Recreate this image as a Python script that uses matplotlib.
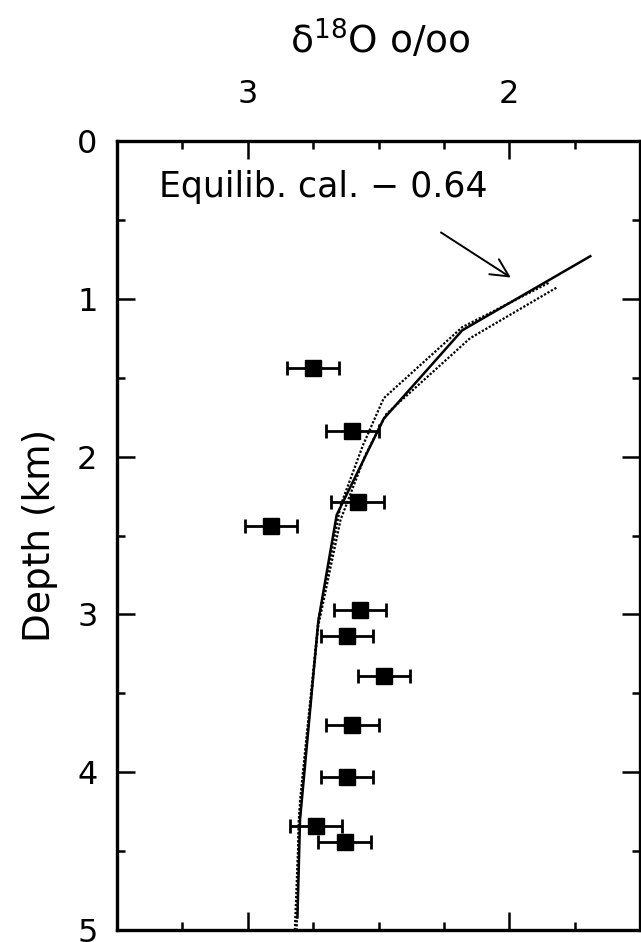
import numpy as np
import matplotlib
matplotlib.use("Agg")
import matplotlib.pyplot as plt
from matplotlib.ticker import MultipleLocator

# measured d18O (permil) vs depth (km), +/- 0.1 error
obs_d18o = [2.75, 2.60, 2.58, 2.91, 2.57, 2.62, 2.48, 2.60, 2.62, 2.74, 2.63]
obs_depth = [1.44, 1.84, 2.29, 2.44, 2.97, 3.14, 3.39, 3.70, 4.03, 4.34, 4.44]
obs_err = [0.1] * len(obs_d18o)

# equilibrium calculation - 0.64 (solid)
cal_d18o = [1.69, 2.18, 2.48, 2.66, 2.73, 2.80, 2.81]
cal_depth = [0.73, 1.20, 1.76, 2.37, 3.04, 4.30, 4.92]

# alternative calculations (dotted)
alt1_d18o = [1.85, 2.18, 2.48, 2.56, 2.645, 2.73, 2.80, 2.82]
alt1_depth = [0.90, 1.18, 1.63, 1.93, 2.31, 3.04, 4.18, 5.0]
alt2_d18o = [1.82, 2.15, 2.47, 2.55, 2.645, 2.73, 2.805, 2.813]
alt2_depth = [0.93, 1.25, 1.73, 1.99, 2.40, 3.07, 4.30, 5.0]

W, H = 641, 942
fig = plt.figure(figsize=(W / 100, H / 100), dpi=100)
ax = fig.add_axes([117 / W, 1 - 930 / H, (640 - 117) / W, (930 - 141) / H])

ax.plot(cal_d18o, cal_depth, color="black", lw=1.8)
ax.plot(alt1_d18o, alt1_depth, color="black", lw=1.6, ls=(0, (1, 0.8)))
ax.plot(alt2_d18o, alt2_depth, color="black", lw=1.6, ls=(0, (1, 0.8)))
ax.errorbar(obs_d18o, obs_depth, xerr=obs_err, fmt="s", color="black",
            ms=11.5, elinewidth=2, capsize=5, capthick=2)

ax.annotate("", xy=(1.985, 0.875), xytext=(2.27, 0.57),
            arrowprops=dict(arrowstyle="->", lw=1.4, color="black",
                            mutation_scale=32))
ax.text(3.34, 0.29, "Equilib. cal. \u2212 0.64", fontsize=25, va="center", ha="left")

ax.set_xlim(3.5, 1.5)
ax.set_ylim(5, 0)
ax.xaxis.set_major_locator(MultipleLocator(1))
ax.xaxis.set_minor_locator(MultipleLocator(0.25))
ax.yaxis.set_major_locator(MultipleLocator(1))
ax.yaxis.set_minor_locator(MultipleLocator(0.5))
ax.tick_params(which="both", direction="in", top=True, bottom=True,
               left=True, right=True, labeltop=True, labelbottom=False,
               width=1.8, labelsize=23)
ax.tick_params(axis="x", which="major", length=13, pad=22)
ax.tick_params(axis="x", which="minor", length=6)
ax.tick_params(axis="y", which="major", length=13, pad=14)
ax.tick_params(axis="y", which="minor", length=6)
for s in ax.spines.values():
    s.set_linewidth(2.4)

ax.set_ylabel("Depth (km)", fontsize=27, labelpad=14)
fig.text(380 / W, 1 - 40 / H, "\u03b4$^{18}$O o/oo", fontsize=27,
         ha="center", va="center")

fig.savefig("out.png", dpi=100)
